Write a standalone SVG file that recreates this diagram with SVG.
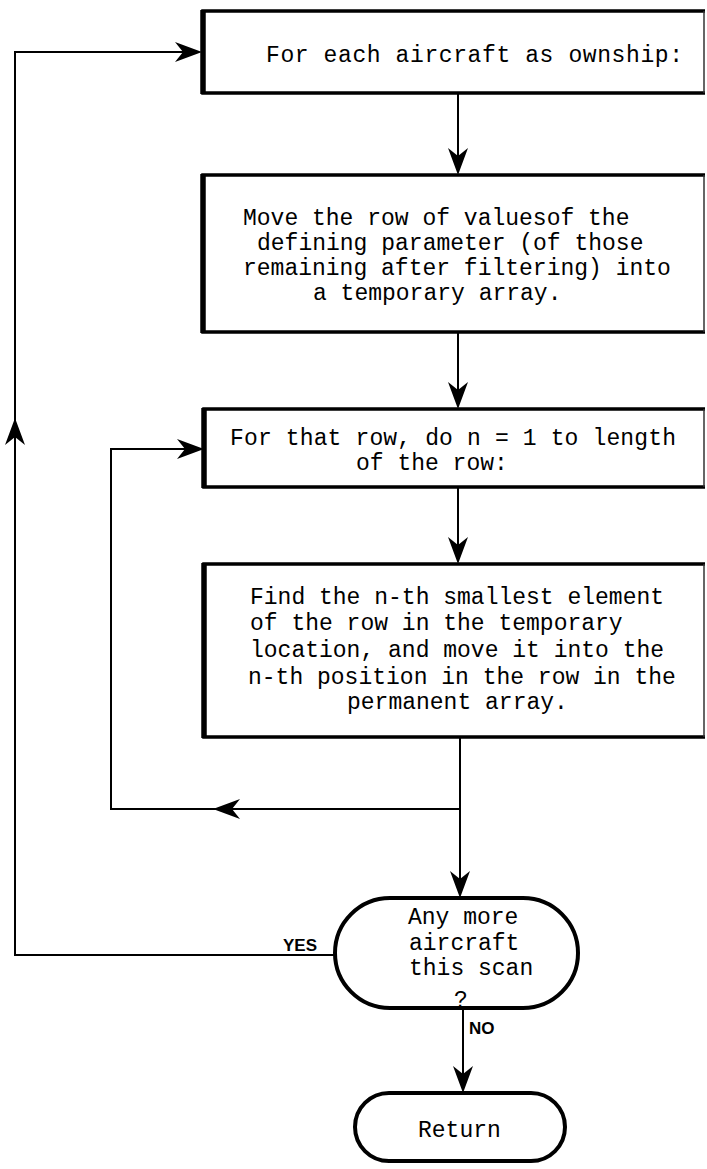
<svg xmlns="http://www.w3.org/2000/svg" width="707" height="1169" viewBox="0 0 707 1169">
  <style>
    .box { fill: #fff; stroke: none; }
    .rim { fill: none; stroke: #000; stroke-width: 3.5; }
    .edge { fill: none; stroke: #000; stroke-width: 5.5; }
    .side { fill: none; stroke: #333; stroke-width: 1.5; }
    .term { fill: #fff; stroke: #000; stroke-width: 4; }
    .wire { fill: none; stroke: #000; stroke-width: 2; }
    .tt { font-family: "Liberation Mono", "DejaVu Sans Mono", monospace; font-size: 23px; fill: #000; }
    .lbl { font-family: "Liberation Sans", Arial, sans-serif; font-size: 17px; font-weight: bold; fill: #000; }
    .head { fill: #000; }
  </style>
  <defs>
    <!-- barbed arrowhead, tip at origin pointing +x -->
    <path id="ah" d="M0,0 L-27,-10 L-19,0 L-27,10 Z"/>
  </defs>
  <rect width="707" height="1169" fill="#fff"/>

  <g id="connectors">
    <!-- outer loop: YES back to the top -->
    <path class="wire" d="M335,955 H15 V52 H190"/>
    <use href="#ah" class="head" transform="translate(202,52)"/>
    <use href="#ah" class="head" transform="translate(15,418) rotate(-90)"/>
    <!-- box 1 to box 2 -->
    <path class="wire" d="M458,93 V165"/>
    <use href="#ah" class="head" transform="translate(458,175) rotate(90)"/>
    <!-- box 2 to box 3 -->
    <path class="wire" d="M458,332 V398"/>
    <use href="#ah" class="head" transform="translate(458,409) rotate(90)"/>
    <!-- box 3 to box 4 -->
    <path class="wire" d="M458,487 V553"/>
    <use href="#ah" class="head" transform="translate(458,564) rotate(90)"/>
    <!-- inner loop back to box 3 -->
    <path class="wire" d="M460,809 H111 V449 H192"/>
    <use href="#ah" class="head" transform="translate(204,449)"/>
    <use href="#ah" class="head" transform="translate(213,809) rotate(180)"/>
    <!-- box 4 to decision -->
    <path class="wire" d="M460,737 V887"/>
    <use href="#ah" class="head" transform="translate(460,898) rotate(90)"/>
    <!-- decision to return -->
    <path class="wire" d="M463,1008 V1082"/>
    <use href="#ah" class="head" transform="translate(463,1093) rotate(90)"/>
    <text class="lbl" x="283" y="951">YES</text>
    <text class="lbl" x="469" y="1034">NO</text>
  </g>

  <g id="n1">
    <rect class="box" x="203" y="11" width="501" height="82"/>
    <path class="rim" d="M705,11 H203 V93 H705"/>
    <path class="edge" d="M203,10 V94"/>
    <path class="side" d="M704,11 V93"/>
    <text class="tt" x="266" y="62" textLength="417">For each aircraft as ownship:</text>
  </g>

  <g id="n2">
    <rect class="box" x="203" y="175" width="501" height="157"/>
    <path class="rim" d="M705,175 H203 V332 H705"/>
    <path class="edge" d="M203,174 V333"/>
    <path class="side" d="M704,175 V332"/>
    <text class="tt" x="243" y="225">Move the row of valuesof the</text>
    <text class="tt" x="257" y="250">defining parameter (of those</text>
    <text class="tt" x="243" y="275">remaining after filtering) into</text>
    <text class="tt" x="313" y="300">a temporary array.</text>
  </g>

  <g id="n3">
    <rect class="box" x="204" y="409" width="500" height="78"/>
    <path class="rim" d="M705,409 H204 V487 H705"/>
    <path class="edge" d="M204,408 V488"/>
    <path class="side" d="M704,409 V487"/>
    <text class="tt" x="230" y="445" textLength="446">For that row, do n = 1 to length</text>
    <text class="tt" x="356" y="470">of the row:</text>
  </g>

  <g id="n4">
    <rect class="box" x="204" y="564" width="500" height="173"/>
    <path class="rim" d="M705,564 H204 V737 H705"/>
    <path class="edge" d="M204,563 V738"/>
    <path class="side" d="M704,564 V737"/>
    <text class="tt" x="250" y="604">Find the n-th smallest element</text>
    <text class="tt" x="250" y="630">of the row in the temporary</text>
    <text class="tt" x="250" y="657">location, and move it into the</text>
    <text class="tt" x="248" y="684">n-th position in the row in the</text>
    <text class="tt" x="347" y="709">permanent array.</text>
  </g>

  <g id="decision">
    <rect class="term" x="335" y="898" width="243" height="110" rx="55" ry="55"/>
    <text class="tt" x="408" y="924">Any more</text>
    <text class="tt" x="409" y="950">aircraft</text>
    <text class="tt" x="409" y="975">this scan</text>
    <text class="tt" x="454" y="1007">?</text>
  </g>

  <g id="return">
    <rect class="term" x="355" y="1093" width="210" height="68" rx="34" ry="34"/>
    <text class="tt" x="418" y="1137">Return</text>
  </g>
</svg>
